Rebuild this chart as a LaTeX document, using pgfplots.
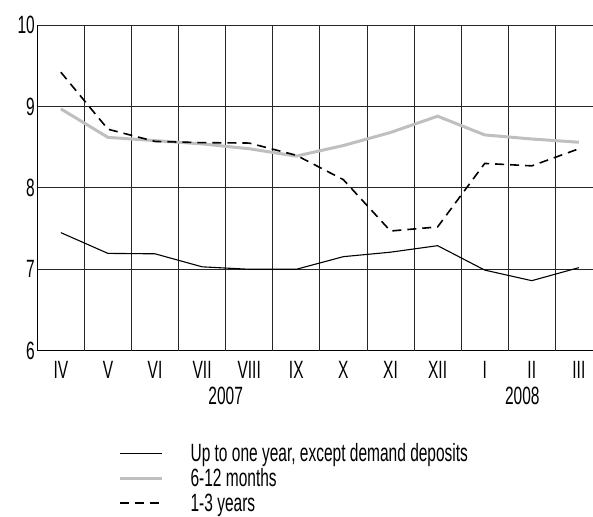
\documentclass[border=0pt]{standalone}
\usepackage{fontspec}
\setmainfont{Liberation Sans}[FakeStretch=0.62]
\usepackage{pgfplots}
\pgfplotsset{compat=1.18}
\begin{document}
\begin{tikzpicture}[font=\fontsize{25}{29}\selectfont]
\useasboundingbox (0,0) rectangle (593pt,516pt);
\begin{axis}[
  at={(37.3pt,165.3pt)}, anchor=south west,
  scale only axis, width=555.7pt, height=325.7pt,
  xmin=-0.5, xmax=11.3, ymin=6, ymax=10,
  axis x line=bottom, axis y line=left,
  axis line style={-, black, line width=1pt},
  ytick={6,7,8,9,10},
  xtick={0,...,11},
  xticklabels={IV,V,VI,VII,VIII,IX,X,XI,XII,I,II,III},
  major tick length=0pt,
  tick style={draw=none},
  ymajorgrids,
  major grid style={black!85, line width=0.8pt},
  extra x ticks={0.5,1.5,...,10.5},
  extra x tick labels={},
  extra x tick style={grid=major, major grid style={black!85, line width=0.8pt}},
  /pgf/number format/assume math mode=true,
  xticklabel style={yshift=-7pt},
  yticklabel style={xshift=1pt},
  clip=false,
  legend style={at={(0.145,-0.283)}, anchor=north west, draw=none, fill=none,
    inner sep=0pt, row sep=4.5pt, nodes={inner sep=0.5pt},
    /tikz/every odd column/.append style={column sep=27pt}},
  legend cell align=left,
  legend image code/.code={\draw[#1] (0pt,0pt) -- (42pt,0pt);},
]
\addplot[black, line width=1.1pt] coordinates {
 (0,7.45) (1,7.195) (2,7.19) (3,7.03) (4,7.00) (5,7.00)
 (6,7.155) (7,7.21) (8,7.29) (9,6.99) (10,6.86) (11,7.02)};
\addlegendentry{Up to one year, except demand deposits}
\addplot[black!25, line width=3pt] coordinates {
 (0,8.97) (1,8.62) (2,8.58) (3,8.54) (4,8.48) (5,8.39)
 (6,8.52) (7,8.68) (8,8.88) (9,8.65) (10,8.60) (11,8.56)};
\addlegendentry{6-12 months}
\addplot[black, line width=1.6pt, dash pattern=on 9pt off 6pt] coordinates {
 (0,9.42) (1,8.72) (2,8.57) (3,8.555) (4,8.55) (5,8.40)
 (6,8.10) (7,7.47) (8,7.52) (9,8.30) (10,8.27) (11,8.48)};
\addlegendentry{1-3 years}
\node at (axis cs:3.5,5.444) {2007};
\node at (axis cs:9.8,5.444) {2008};
\end{axis}
\end{tikzpicture}
\end{document}
